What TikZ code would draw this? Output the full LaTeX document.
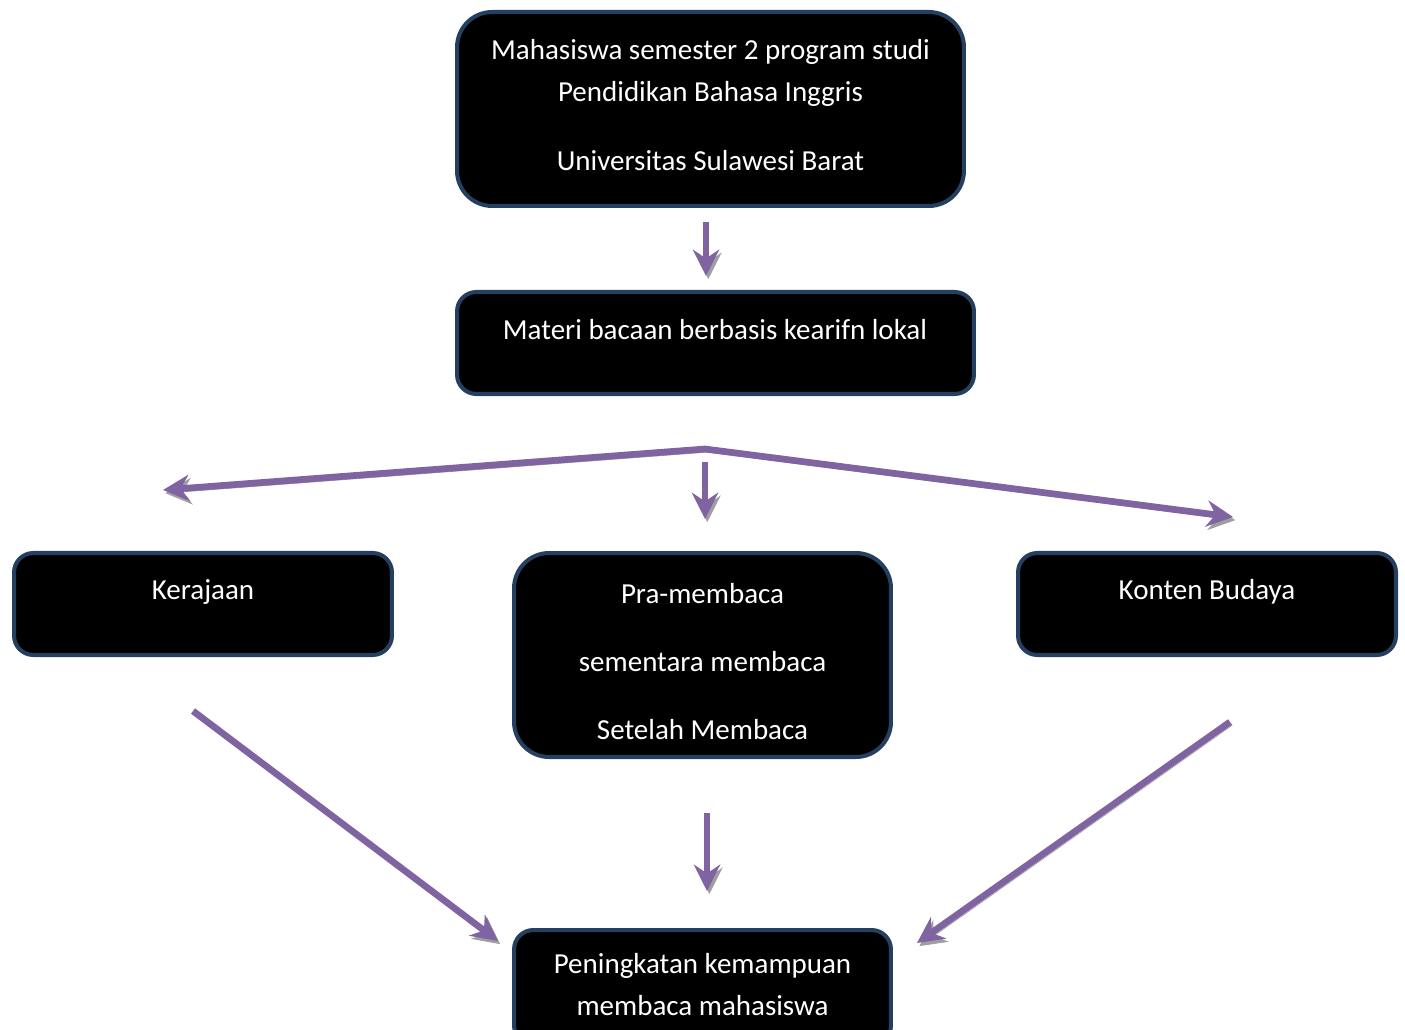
\documentclass[tikz,border=0pt]{standalone}
\usepackage{fontspec}
\setmainfont{Carlito}
\usetikzlibrary{arrows.meta}
\definecolor{garis}{HTML}{243F60}
\definecolor{ungu}{HTML}{8064A2}
\tikzset{
  kotak/.style={draw=garis, line width=2.3pt, fill=black, rounded corners=11pt,
    inner sep=0pt, text=white, align=center, font=\fontsize{16.5}{24}\selectfont},
  teks/.style={text=white, inner sep=0pt, font=\fontsize{16.5}{24}\selectfont},
  panah/.style={ungu, line width=3.8pt, line join=miter,
    preaction={draw=gray!75, transform canvas={shift={(1.3pt,-1.8pt)}}}},
  ujung/.style={-{Stealth[length=15pt,width=15pt,inset=5pt]}},
}
\begin{document}
\begin{tikzpicture}[x=0.02cm,y=-0.02cm]
        \useasboundingbox (0,0) rectangle (1405,1030);
        \clip (0,0) rectangle (1405,1030);
        % Boxes
        \node[kotak, rounded corners=20pt, minimum width=10.14cm, minimum height=3.88cm] (atas) at (710.5,109)
          {Mahasiswa semester 2 program studi\\ Pendidikan Bahasa Inggris\\[15pt] Universitas Sulawesi Barat\rule[-4.6pt]{0pt}{0pt}};
        \node[kotak, minimum width=10.34cm, minimum height=2.04cm] (materi) at (715.5,343) {};
        \node[teks] (materi-t) at (715,330) {Materi bacaan berbasis kearifn lokal};
        \node[kotak, minimum width=7.56cm, minimum height=2.04cm] (kerajaan) at (203,604) {};
        \node[teks] (kerajaan-t) at (203,592) {Kerajaan};
        \node[kotak, rounded corners=20pt, minimum width=7.54cm, minimum height=4.08cm] (tahap) at (702.5,655)
          {\rule{0pt}{19pt}Pra-membaca\\[14.5pt] sementara membaca\\[14.5pt] Setelah Membaca};
        \node[kotak, minimum width=7.56cm, minimum height=2.04cm] (budaya) at (1207,604) {};
        \node[teks] (budaya-t) at (1207,592) {Konten Budaya};
        \node[kotak, minimum width=7.54cm, minimum height=2.3cm] (hasil) at (702.5,987.5)
          {Peningkatan kemampuan\\ membaca mahasiswa\rule[-3.4pt]{0pt}{0pt}};
        % Arrow ends
        \coordinate (p1) at (706,222);
        \coordinate (p2) at (706,276);
        \coordinate (cabang) at (705,449);
        \coordinate (kiri) at (163,490);
        \coordinate (kanan) at (1233,517);
        \coordinate (t1) at (705,462);
        \coordinate (t2) at (705,519);
        \coordinate (k1) at (193,711);
        \coordinate (k2) at (498,941);
        \coordinate (m1) at (707,813);
        \coordinate (m2) at (707,891);
        \coordinate (b1) at (1230,722);
        \coordinate (b2) at (917,943);
        % Arrows
        \draw[panah, ujung] (p1) -- (p2);
        \draw[panah, {Stealth[length=15pt,width=15pt,inset=5pt]}-{Stealth[length=15pt,width=15pt,inset=5pt]}] (kiri) -- (cabang) -- (kanan);
        \draw[panah, ujung] (t1) -- (t2);
        \draw[panah, ujung] (k1) -- (k2);
        \draw[panah, ujung] (m1) -- (m2);
        \draw[panah, ujung] (b1) -- (b2);
      \end{tikzpicture}
\end{document}
